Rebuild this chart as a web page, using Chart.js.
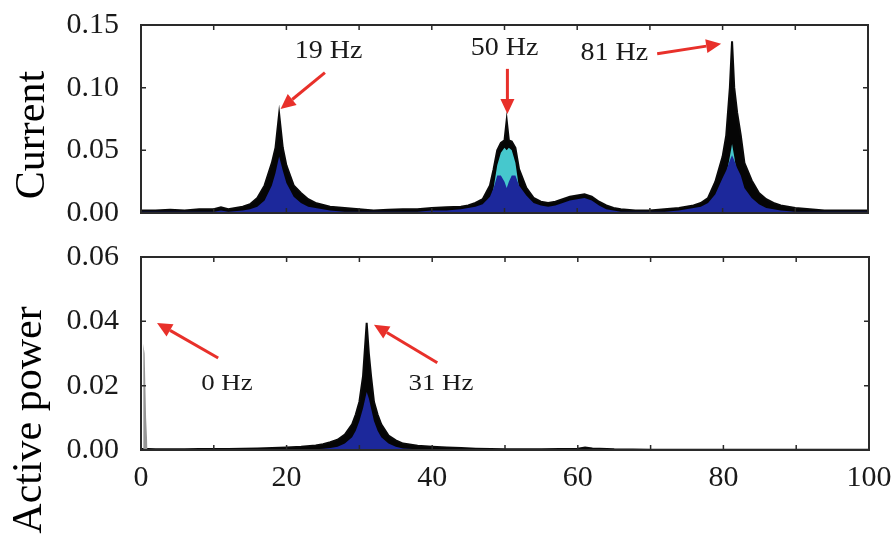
<!DOCTYPE html>
<html>
<head>
<meta charset="utf-8">
<script src="https://cdn.jsdelivr.net/npm/chart.js@4.4.0/dist/chart.umd.min.js"></script>
<style>
    body { margin: 0; background: #fff; }
    #wrap { position: relative; width: 895px; height: 534px; overflow: hidden; }
    #wrap canvas { position: absolute; left: 0; }
    #top { top: 0; }
    #bottom { top: 230px; }
</style>
</head>
<body>
<div id="wrap">
    <canvas id="top" width="895" height="240"></canvas>
    <canvas id="bottom" width="895" height="304"></canvas>
</div>
<script>
// frequency grid of the current spectrum (Hz)
const freqTop = [0, 2, 4, 6, 8, 10, 11, 12, 14, 15,
    16, 17, 18, 18.5, 19, 19.5, 20, 21, 22, 23,
    24, 26, 28, 30, 32, 34, 36, 38, 40, 42,
    44, 45, 46, 47, 48, 48.5, 49, 49.5, 50, 50.3,
    50.6, 51, 51.5, 52, 53, 54, 55, 56, 57, 58,
    59, 60, 61, 62, 63, 64, 65, 66, 68, 70,
    72, 74, 76, 77, 78, 79, 80, 80.5, 81, 81.3,
    81.6, 82, 82.5, 83, 84, 85, 86, 87, 88, 90,
    92, 94, 96, 98, 100];

// maximum envelope (black)
const currentMax = [0.002, 0.002, 0.0025, 0.002, 0.003, 0.003, 0.0045, 0.003, 0.005, 0.007,
    0.012, 0.022, 0.04, 0.052, 0.079, 0.052, 0.038, 0.022, 0.016, 0.011,
    0.008, 0.005, 0.004, 0.003, 0.002, 0.0025, 0.003, 0.003, 0.004, 0.0045,
    0.005, 0.006, 0.008, 0.011, 0.022, 0.035, 0.05, 0.056, 0.058, 0.074,
    0.058, 0.057, 0.052, 0.035, 0.02, 0.012, 0.009, 0.008, 0.009, 0.011,
    0.013, 0.014, 0.015, 0.013, 0.009, 0.006, 0.004, 0.003, 0.002, 0.002,
    0.003, 0.004, 0.006, 0.008, 0.012, 0.025, 0.045, 0.062, 0.1, 0.137,
    0.1, 0.08, 0.062, 0.04, 0.026, 0.016, 0.011, 0.008, 0.006, 0.004,
    0.003, 0.002, 0.002, 0.002, 0.002];

// cyan layer
const currentCyan = [0, 0, 0, 0, 0, 0, 0, 0, 0, 0,
    0, 0, 0, 0, 0, 0, 0, 0, 0, 0,
    0, 0, 0, 0, 0, 0, 0, 0, 0, 0,
    0, 0, 0, 0.002, 0.008, 0.02, 0.038, 0.048, 0.052, 0.05,
    0.052, 0.05, 0.04, 0.02, 0.006, 0, 0, 0, 0, 0,
    0, 0, 0, 0, 0, 0, 0, 0, 0, 0,
    0, 0, 0, 0, 0, 0, 0.02, 0.03, 0.045, 0.055,
    0.045, 0.03, 0.02, 0, 0, 0, 0, 0, 0, 0,
    0, 0, 0, 0, 0];

// blue layer
const currentBlue = [0.001, 0.001, 0.001, 0.001, 0.001, 0.001, 0.002, 0.001, 0.002, 0.003,
    0.005, 0.01, 0.022, 0.032, 0.045, 0.034, 0.024, 0.013, 0.008, 0.005,
    0.004, 0.002, 0.001, 0.001, 0.001, 0.001, 0.001, 0.001, 0.002, 0.002,
    0.003, 0.004, 0.005, 0.007, 0.013, 0.02, 0.03, 0.03, 0.025, 0.02,
    0.025, 0.03, 0.03, 0.022, 0.014, 0.008, 0.006, 0.005, 0.006, 0.008,
    0.01, 0.011, 0.012, 0.01, 0.006, 0.003, 0.002, 0.001, 0.001, 0.001,
    0.001, 0.002, 0.004, 0.005, 0.008, 0.015, 0.028, 0.034, 0.042, 0.046,
    0.042, 0.036, 0.03, 0.02, 0.012, 0.007, 0.004, 0.003, 0.002, 0.001,
    0.001, 0.001, 0.001, 0.001, 0.001];

// frequency grid of the active power spectrum (Hz)
const freqBottom = [0, 1, 2, 4, 6, 8, 10, 12, 14, 16,
    18, 20, 22, 24, 25, 26, 27, 28, 29, 29.5,
    30, 30.5, 31, 31.3, 31.6, 32, 32.5, 33, 34, 35,
    36, 38, 40, 42, 44, 46, 48, 50, 55, 60,
    61, 62, 65, 70, 75, 80, 85, 90, 95, 100];

const powerMax = [0.0003, 0.0003, 0.0002, 0.0002, 0.0002, 0.0003, 0.0003, 0.0003, 0.0004, 0.0005,
    0.0006, 0.0008, 0.001, 0.0014, 0.0018, 0.0024, 0.0032, 0.0048, 0.008, 0.011,
    0.015, 0.023, 0.0395, 0.03, 0.023, 0.015, 0.011, 0.008, 0.0045, 0.003,
    0.002, 0.0013, 0.001, 0.0008, 0.0006, 0.0004, 0.0003, 0.0002, 0.0002, 0.0004,
    0.0008, 0.0005, 0.0002, 0.0001, 0.0001, 0.0001, 0.0001, 0.0001, 0.0001, 0.0001];

const powerBlue = [0, 0, 0, 0, 0, 0, 0, 0, 0, 0,
    0, 0, 0, 0.0002, 0.0004, 0.0006, 0.001, 0.002, 0.004, 0.006,
    0.009, 0.013, 0.018, 0.016, 0.013, 0.009, 0.006, 0.004, 0.002, 0.001,
    0.0005, 0.0002, 0, 0, 0, 0, 0, 0, 0, 0,
    0, 0, 0, 0, 0, 0, 0, 0, 0, 0];

// DC component near 0 Hz (grey)
const freqDC = [0.3, 0.5, 0.7, 0.9];
const powerDC = [0.033, 0.03, 0.01, 0];

const xTicks = [0, 20, 40, 60, 80, 100];
const topTicks = [0, 0.05, 0.10, 0.15];
const bottomTicks = [0, 0.02, 0.04, 0.06];

const topNotes = [
    { text: "19 Hz", x: 25.8, y: 0.129, from: [25.3, 0.112], to: [19.2, 0.083] },
    { text: "50 Hz", x: 50.0, y: 0.131, from: [50.4, 0.115], to: [50.4, 0.079] },
    { text: "81 Hz", x: 65.1, y: 0.127, from: [71.0, 0.127], to: [79.8, 0.135] }
];
const bottomNotes = [
    { text: "0 Hz", x: 11.8, y: 0.0205, from: [10.6, 0.0286], to: [2.2, 0.0395] },
    { text: "31 Hz", x: 41.2, y: 0.0205, from: [40.7, 0.0271], to: [32.0, 0.0389] }
];

const SERIF = "'Liberation Serif', 'Times New Roman', serif";

function pts(xs, ys) {
    return xs.map((x, i) => ({ x: x, y: ys[i] }));
}

function area(data, color, order, border) {
    return {
        data: data,
        borderColor: border ? "#0a0a0a" : color,
        borderWidth: border ? 2 : 0,
        backgroundColor: color,
        fill: "origin",
        pointRadius: 0,
        tension: 0,
        order: order
    };
}

function drawArrow(ctx, x1, y1, x2, y2) {
    const a = Math.atan2(y2 - y1, x2 - x1);
    const head = 15, w = 7;
    const bx = x2 - head * Math.cos(a), by = y2 - head * Math.sin(a);
    ctx.strokeStyle = "#e8302a";
    ctx.fillStyle = "#e8302a";
    ctx.lineWidth = 3;
    ctx.beginPath();
    ctx.moveTo(x1, y1);
    ctx.lineTo(bx, by);
    ctx.stroke();
    ctx.beginPath();
    ctx.moveTo(x2, y2);
    ctx.lineTo(bx + w * Math.sin(a), by - w * Math.cos(a));
    ctx.lineTo(bx - w * Math.sin(a), by + w * Math.cos(a));
    ctx.closePath();
    ctx.fill();
}

// frame, inner ticks, axis title and arrow notes
const decor = {
    id: "decor",
    afterDatasetsDraw(chart, args, opts) {
        const ctx = chart.ctx;
        const a = chart.chartArea;
        const xs = chart.scales.x, ys = chart.scales.y;
        ctx.save();
        ctx.strokeStyle = "#2a2a2a";
        ctx.lineWidth = 2;
        ctx.strokeRect(a.left, a.top, a.right - a.left, a.bottom - a.top);
        ctx.lineWidth = 1.5;
        for (let f = 10; f < 100; f += 10) {
            const px = xs.getPixelForValue(f);
            ctx.beginPath();
            ctx.moveTo(px, a.top); ctx.lineTo(px, a.top + 5);
            ctx.moveTo(px, a.bottom); ctx.lineTo(px, a.bottom - 5);
            ctx.stroke();
        }
        opts.yTicks.slice(1, -1).forEach(v => {
            const py = ys.getPixelForValue(v);
            ctx.beginPath();
            ctx.moveTo(a.left, py); ctx.lineTo(a.left + 5, py);
            ctx.moveTo(a.right, py); ctx.lineTo(a.right - 5, py);
            ctx.stroke();
        });

        opts.notes.forEach(n => {
            drawArrow(ctx, xs.getPixelForValue(n.from[0]), ys.getPixelForValue(n.from[1]),
                xs.getPixelForValue(n.to[0]), ys.getPixelForValue(n.to[1]));
            ctx.save();
            ctx.translate(xs.getPixelForValue(n.x), ys.getPixelForValue(n.y));
            ctx.scale(1.12, 1);
            ctx.fillStyle = "#1a1a1a";
            ctx.font = opts.noteSize + "px " + SERIF;
            ctx.textAlign = "center";
            ctx.textBaseline = "middle";
            ctx.fillText(n.text, 0, 0);
            ctx.restore();
        });

        ctx.save();
        ctx.translate(opts.titleX, opts.titleY);
        ctx.rotate(-Math.PI / 2);
        ctx.fillStyle = "#000";
        ctx.font = "42px " + SERIF;
        ctx.textAlign = "center";
        ctx.textBaseline = "middle";
        ctx.fillText(opts.title, 0, 0);
        ctx.restore();
        ctx.restore();
    }
};

function makeChart(id, datasets, yMax, yTicks, showX, padding, decorOpts) {
    return new Chart(document.getElementById(id), {
        type: "line",
        data: { datasets: datasets },
        options: {
            responsive: false,
            animation: false,
            layout: { padding: padding },
            plugins: { legend: { display: false }, tooltip: { enabled: false }, decor: decorOpts },
            scales: {
                x: {
                    type: "linear", min: 0, max: 100,
                    display: showX,
                    grid: { display: false, drawTicks: false },
                    border: { display: false },
                    afterBuildTicks: s => { s.ticks = xTicks.map(v => ({ value: v })); },
                    afterFit: s => {
                        if (showX) s.height = 84;
                        s.paddingLeft = 0; s.paddingRight = 0;
                    },
                    ticks: { color: "#1a1a1a", padding: 10, font: { family: SERIF, size: 30 } }
                },
                y: {
                    min: 0, max: yMax,
                    grid: { display: false, drawTicks: false },
                    border: { display: false },
                    afterBuildTicks: s => { s.ticks = yTicks.map(v => ({ value: v })); },
                    afterFit: s => {
                        s.width = 141;
                        s.paddingTop = 0; s.paddingBottom = 0;
                    },
                    ticks: {
                        color: "#1a1a1a", padding: 22,
                        font: { family: SERIF, size: 30 },
                        callback: v => v.toFixed(2)
                    }
                }
            }
        },
        plugins: [decor]
    });
}

makeChart("top", [
    area(pts(freqTop, currentMax), "#050505", 3, true),
    area(pts(freqTop, currentCyan), "rgb(70,200,205)", 2, false),
    area(pts(freqTop, currentBlue), "rgb(28,40,155)", 1, false)
], 0.15, topTicks, false, { top: 25, right: 27, bottom: 27, left: 0 },
    { yTicks: topTicks, notes: topNotes, noteSize: 25, title: "Current", titleX: 33, titleY: 135 });

makeChart("bottom", [
    area(pts(freqBottom, powerMax), "#050505", 3, true),
    area(pts(freqBottom, powerBlue), "rgb(28,40,155)", 1, false),
    area(pts(freqDC, powerDC), "rgb(150,150,150)", 2, false)
], 0.06, bottomTicks, true, { top: 27, right: 26, bottom: 0, left: 0 },
    { yTicks: bottomTicks, notes: bottomNotes, noteSize: 24, title: "Active power", titleX: 30, titleY: 190 });
</script>
</body>
</html>
